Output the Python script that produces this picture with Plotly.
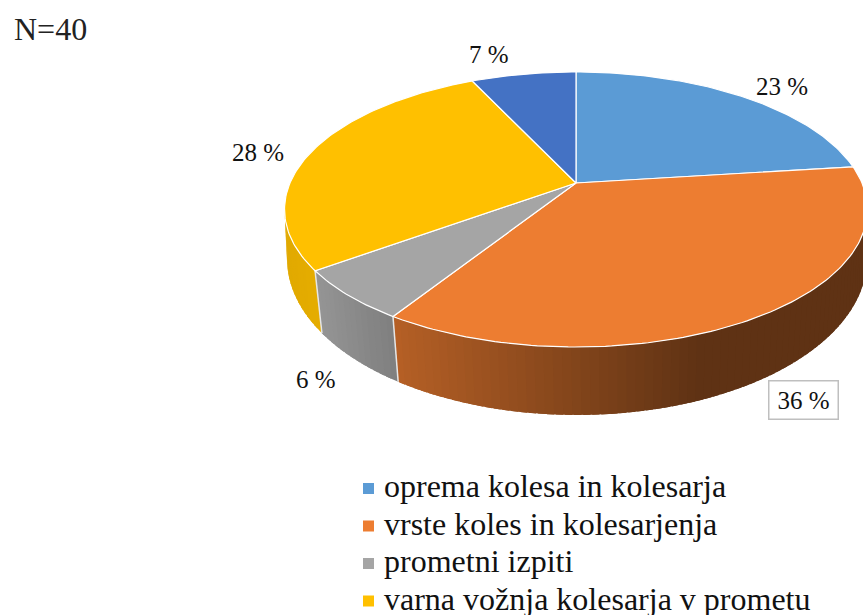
import math
import plotly.graph_objects as go

categories = ["oprema kolesa in kolesarja", "vrste koles in kolesarjenja", "prometni izpiti",
              "varna vožnja kolesarja v prometu", ""]
values = [23, 36, 6, 28, 7]
colors = [(91, 155, 213), (237, 125, 49), (165, 165, 165), (255, 192, 0), (68, 114, 196)]
sample_size = "N=40"

# projection of the pie onto the page (pixels)
CX, CY, A, B, K = 576.0, 183.0, 286.0, 132.4, 0.1927
BX, BY, BRX, BRY = 577.0, 259.0, 290.0, 156.0
SIL = (101.0, 259.0)
SHADE = [(284, .88), (320, .90), (400, .76), (700, .40), (900, .40)]
SERIF = "Liberation Serif"


def top(theta):
    t = math.radians(theta)
    X, Y = math.sin(t), math.cos(t)
    w = 1 + K * Y
    return CX + A * X / w, CY - B * Y / w


def bottom(theta):
    x, _ = top(theta)
    dx = x - CX
    s = 0.977 + 0.018 * max(0.0, (abs(dx) - 260) / 31)
    xb = BX + dx * s
    u = min(1.0, ((xb - BX) / BRX) ** 2)
    return xb, BY + BRY * math.sqrt(1 - u)


def shade(x):
    for (x0, s0), (x1, s1) in zip(SHADE, SHADE[1:]):
        if x <= x1:
            return s0 + (s1 - s0) * (max(x, x0) - x0) / (x1 - x0)
    return SHADE[-1][1]


def css(c, s=1.0):
    return "rgb(%d,%d,%d)" % tuple(round(v * s) for v in c)


def poly(xs, ys, color, line, name=""):
    return go.Scatter(x=xs, y=ys, mode="lines", fill="toself", fillcolor=color, name=name,
                      line=line, showlegend=False, hoverinfo="skip")


fig = go.Figure()
total = sum(values)
edges = [0.0]
for v in values:
    edges.append(edges[-1] + 360.0 * v / total)

# side wall: overlapping strips, so no seams show
for v, c, a0, a1 in zip(values, colors, edges, edges[1:]):
    lo, hi = max(a0, SIL[0]), min(a1, SIL[1])
    if hi <= lo:
        continue
    n = max(2, int((hi - lo) / 1.5))
    for i in range(n):
        t0 = lo + (hi - lo) * i / n
        t1 = lo + (hi - lo) * (i + 1) / n
        mid = [top(t0), top(t1), bottom(t1), bottom(t0)]
        col = css(c, shade(sum(q[0] for q in mid) / 4))
        t1x = min(hi, t1 + 1.2)
        p = [top(t0), top(t1x), bottom(t1x), bottom(t0), top(t0)]
        fig.add_trace(poly([q[0] for q in p], [q[1] for q in p], col, dict(width=0)))

# white seams on the wall
for a in edges[1:-1]:
    if SIL[0] < a < SIL[1]:
        p, q = top(a), bottom(a)
        fig.add_trace(go.Scatter(x=[p[0], q[0]], y=[p[1], q[1]], mode="lines", showlegend=False,
                                 hoverinfo="skip", line=dict(color="#e6e6e6", width=1.5)))

# top face
for name, v, c, a0, a1 in zip(categories, values, colors, edges, edges[1:]):
    n = max(4, int(a1 - a0))
    pts = [(CX, CY)] + [top(a0 + (a1 - a0) * i / n) for i in range(n + 1)] + [(CX, CY)]
    fig.add_trace(poly([q[0] for q in pts], [q[1] for q in pts], css(c),
                       dict(color="white", width=1.2), name))

# legend keys and texts (Plotly's own legend cannot pack rows this tightly)
legend_rows = [488.5, 526, 563.5, 601]
fig.add_trace(go.Scatter(x=[368.5] * 4, y=legend_rows, mode="markers", showlegend=False, hoverinfo="skip",
                         marker=dict(symbol="square", size=11, color=[css(c) for c in colors[:4]])))
for name, y in zip(categories[:4], legend_rows):
    fig.add_annotation(x=382, y=y - 2.5, text=name, showarrow=False, xanchor="left", yanchor="middle",
                       font=dict(family=SERIF, size=32, color="#111111"))

label_pos = [(782, 86), (803, 400), (316, 379), (258, 152), (489, 54)]
for i, (v, (x, y)) in enumerate(zip(values, label_pos)):
    kw = dict(bordercolor="#bfbfbf", borderwidth=1.5, bgcolor="white", width=66, height=35) if i == 1 else {}
    fig.add_annotation(x=x, y=y, text=f"{v} %", showarrow=False, xanchor="center", yanchor="middle",
                       font=dict(family=SERIF, size=25, color="#111111"), **kw)

fig.add_annotation(x=50, y=29, text=sample_size, showarrow=False, xanchor="center", yanchor="middle",
                   font=dict(family=SERIF, size=32, color="#222222"))

fig.update_layout(
    width=863, height=615, margin=dict(l=0, r=0, t=0, b=0, autoexpand=False),
    paper_bgcolor="white", plot_bgcolor="white", showlegend=False,
    xaxis=dict(range=[0, 863], visible=False),
    yaxis=dict(range=[615, 0], visible=False),
)
fig.write_html("out.html", config={"displayModeBar": False},
               post_script="document.body.style.margin='0';document.body.style.overflow='hidden';")
